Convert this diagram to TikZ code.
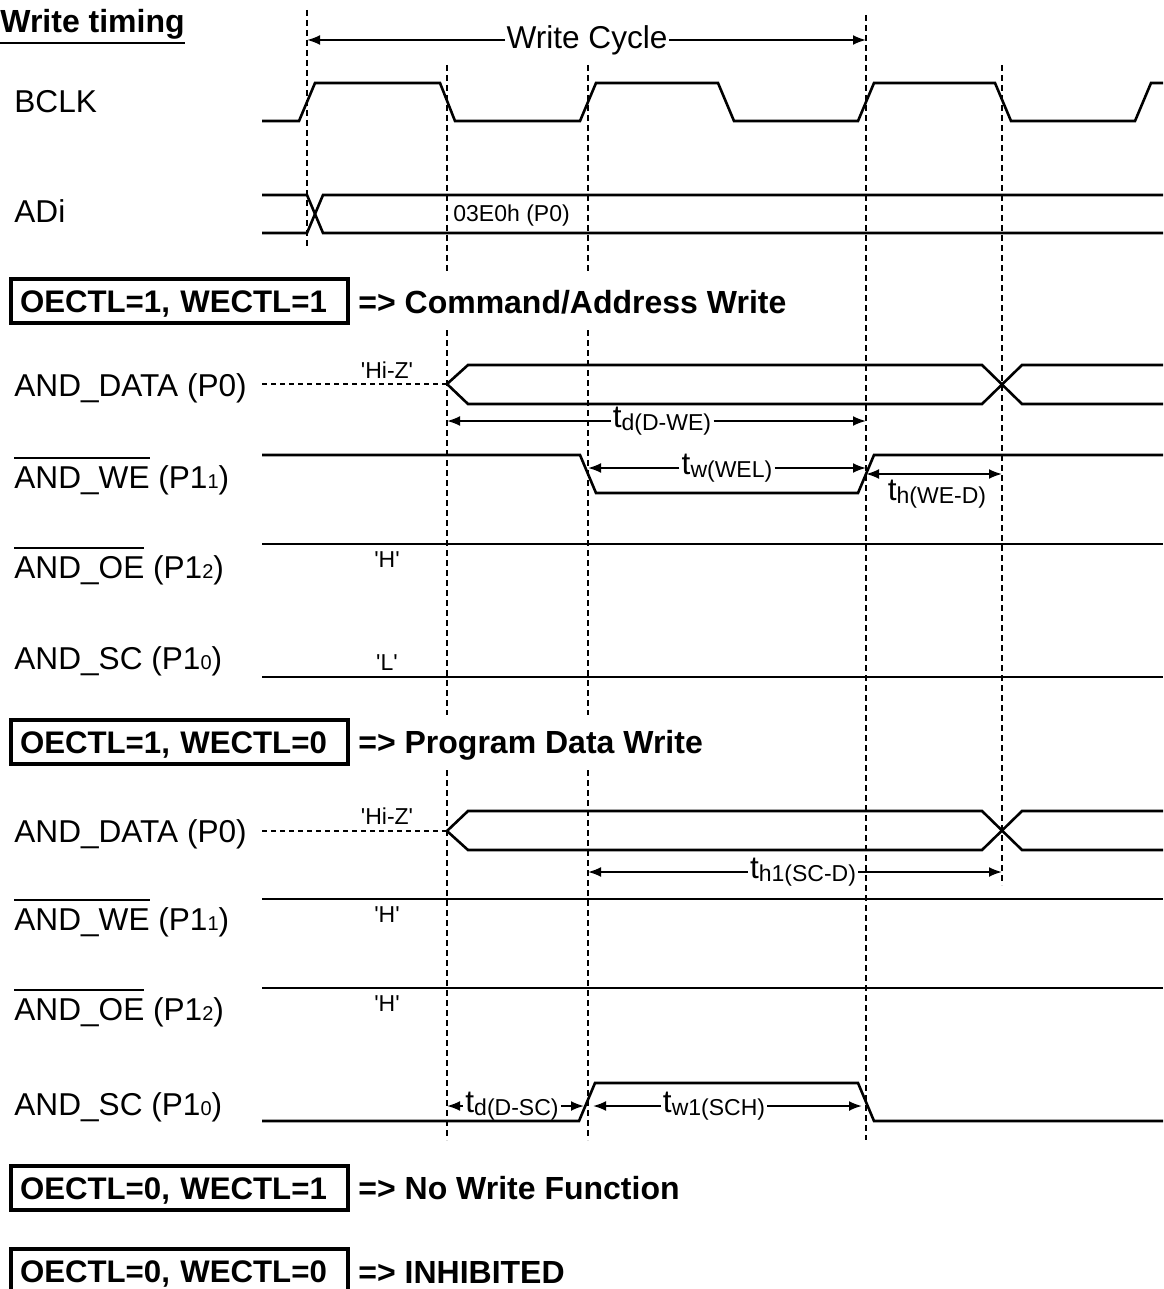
\documentclass[tikz,border=0pt]{standalone}
\usepackage{fontspec}
\setmainfont{Liberation Sans}
\usetikzlibrary{arrows.meta}
\newcommand\mainsize{\fontsize{15.8}{18}\selectfont}
\newcommand\boldsize{\fontsize{16}{18}\selectfont\bfseries}
\newcommand\boxsize{\fontsize{15.6}{18}\selectfont\bfseries}
\newcommand\subfont{\fontsize{11.5}{13}\selectfont}
\newcommand\pinfont{\fontsize{10}{12}\selectfont}
\newcommand\ovl[1]{\vbox{\hrule height 1pt\kern 3.5pt\hbox{#1}}}
\newcommand\tlab[1]{t\raisebox{-1.5pt}{\subfont #1}}
\newcommand\q[1]{\textquotesingle#1\textquotesingle}
\begin{document}
\begin{tikzpicture}[x=0.5pt,y=-0.5pt,font=\mainsize,>={Latex[length=6.5pt,width=5pt]},
  wave/.style={line width=1.3pt},
  guide/.style={line width=1pt,dash pattern=on 3pt off 2pt},
  hiz/.style={line width=0.8pt,dash pattern=on 2.5pt off 2pt},
  dim/.style={line width=1pt},
  sig/.style={anchor=base west,inner sep=0pt},
  small/.style={font=\subfont,inner sep=0pt,anchor=base},
  tim/.style={inner xsep=1pt,inner ysep=0pt},
  cond/.style={draw,line width=2pt,font=\boxsize,anchor=west,minimum height=22pt,text width=159.5pt,text height=11.3pt,text depth=0pt,inner xsep=4.5pt,align=left},
  res/.style={anchor=base west,inner sep=0pt,font=\boldsize}]
\useasboundingbox (0,0) rectangle (1163,1289);
\foreach \x/\ya/\yb in {307/10/246,866/15/1140,1002/65/885}
  \draw[guide] (\x,\ya) -- (\x,\yb);
\foreach \x in {447,588}
  \foreach \ya/\yb in {65/272,330/715,770/1140}
    \draw[guide] (\x,\ya) -- (\x,\yb);

\node[anchor=base west,inner sep=0pt,font=\boldsize] (title) at (0,33) {Write timing};
\draw[line width=1pt] ([yshift=-1.2pt]title.south west) -- ([yshift=-1.2pt]title.south east);

\node[inner xsep=0.5pt] (wc) at (587,40) {Write Cycle};
\coordinate (wc1) at (307,40); \coordinate (wc2) at (866,40);
\draw[dim,->] (wc.west) -- (wc1); \draw[dim,->] (wc.east) -- (wc2);

\node[sig] (bclk) at (14,113) {BCLK};
\draw[wave] (262,121) -- (299,121) -- (315,83) -- (440,83) -- (455,121) -- (580,121) -- (596,83) -- (718,83) -- (734,121) -- (858,121) -- (874,83) -- (995,83) -- (1011,121) -- (1135,121) -- (1151,83) -- (1163,83);

\node[sig] (adi) at (14,222) {ADi};
\draw[wave] (262,195) -- (307,195) -- (323,233) -- (1163,233);
\draw[wave] (262,233) -- (307,233) -- (323,195) -- (1163,195);
\node[small,anchor=base west] (adiv) at (453,221) {03E0h (P0)};

\node[cond] (c1) at (9,301) {OECTL=1, WECTL=1};
\node[res] (r1) at (358,313) {=> Command/Address Write};

\node[sig] (data1) at (14,396) {AND\_DATA (P0)};
\draw[hiz] (262,384) -- (447,384);
\node[small] (hiz1) at (387,378) {\q{Hi-Z}};
\draw[wave] (447,384) -- (468,365) -- (982,365) -- (1022,404) -- (1163,404);
\draw[wave] (447,384) -- (468,404) -- (982,404) -- (1022,365) -- (1163,365);
\node[tim] (tdwe) at (662,421) {\tlab{d(D-WE)}};
\coordinate (tdwe1) at (447,421); \coordinate (tdwe2) at (866,421);
\draw[dim,->] (tdwe.west) -- (tdwe1); \draw[dim,->] (tdwe.east) -- (tdwe2);

\node[sig] (we1) at (14,488) {\ovl{AND\_WE} (P1{\pinfont 1})};
\draw[wave] (262,455) -- (580,455) -- (596,493) -- (858,493) -- (874,455) -- (1163,455);
\node[tim] (twwel) at (727,468) {\tlab{w(WEL)}};
\coordinate (twwel1) at (588,468); \coordinate (twwel2) at (866,468);
\draw[dim,->] (twwel.west) -- (twwel1); \draw[dim,->] (twwel.east) -- (twwel2);
\coordinate (thwe1) at (866,474); \coordinate (thwe2) at (1002,474);
\draw[dim,<->] (thwe1) -- (thwe2);
\node[tim] (thwe) at (937,494) {\tlab{h(WE-D)}};

\node[sig] (oe1) at (14,578) {\ovl{AND\_OE} (P1{\pinfont 2})};
\draw[wave] (262,544) -- (1163,544);
\node[small] (h1) at (387,567) {\q{H}};

\node[sig] (sc1) at (14,669) {AND\_SC (P1{\pinfont 0})};
\draw[wave] (262,677) -- (1163,677);
\node[small] (l1) at (387,670) {\q{L}};

\node[cond] (c2) at (9,742) {OECTL=1, WECTL=0};
\node[res] (r2) at (358,753) {=> Program Data Write};

\node[sig] (data2) at (14,842) {AND\_DATA (P0)};
\draw[hiz] (262,831) -- (447,831);
\node[small] (hiz2) at (387,824) {\q{Hi-Z}};
\draw[wave] (447,831) -- (468,811) -- (982,811) -- (1022,850) -- (1163,850);
\draw[wave] (447,831) -- (468,850) -- (982,850) -- (1022,811) -- (1163,811);
\node[tim] (thsc) at (803,872) {\tlab{h1(SC-D)}};
\coordinate (thsc1) at (588,872); \coordinate (thsc2) at (1002,872);
\draw[dim,->] (thsc.west) -- (thsc1); \draw[dim,->] (thsc.east) -- (thsc2);

\node[sig] (we2) at (14,930) {\ovl{AND\_WE} (P1{\pinfont 1})};
\draw[wave] (262,899) -- (1163,899);
\node[small] (h2) at (387,922) {\q{H}};

\node[sig] (oe2) at (14,1020) {\ovl{AND\_OE} (P1{\pinfont 2})};
\draw[wave] (262,988) -- (1163,988);
\node[small] (h3) at (387,1011) {\q{H}};

\node[sig] (sc2) at (14,1115) {AND\_SC (P1{\pinfont 0})};
\draw[wave] (262,1121) -- (579,1121) -- (595,1083) -- (858,1083) -- (874,1121) -- (1163,1121);
\node[tim] (tdsc) at (512,1106) {\tlab{d(D-SC)}};
\coordinate (tdsc1) at (447,1106); \coordinate (tdsc2) at (584,1106);
\draw[dim,->] (tdsc.west) -- (tdsc1); \draw[dim,->] (tdsc.east) -- (tdsc2);
\node[tim] (twsc) at (714,1106) {\tlab{w1(SCH)}};
\coordinate (twsc1) at (593,1106); \coordinate (twsc2) at (862,1106);
\draw[dim,->] (twsc.west) -- (twsc1); \draw[dim,->] (twsc.east) -- (twsc2);

\node[cond] (c3) at (9,1188) {OECTL=0, WECTL=1};
\node[res] (r3) at (358,1199) {=> No Write Function};

\node[cond] (c4) at (9,1271) {OECTL=0, WECTL=0};
\node[res] (r4) at (358,1283) {=> INHIBITED};
\end{tikzpicture}
\end{document}
